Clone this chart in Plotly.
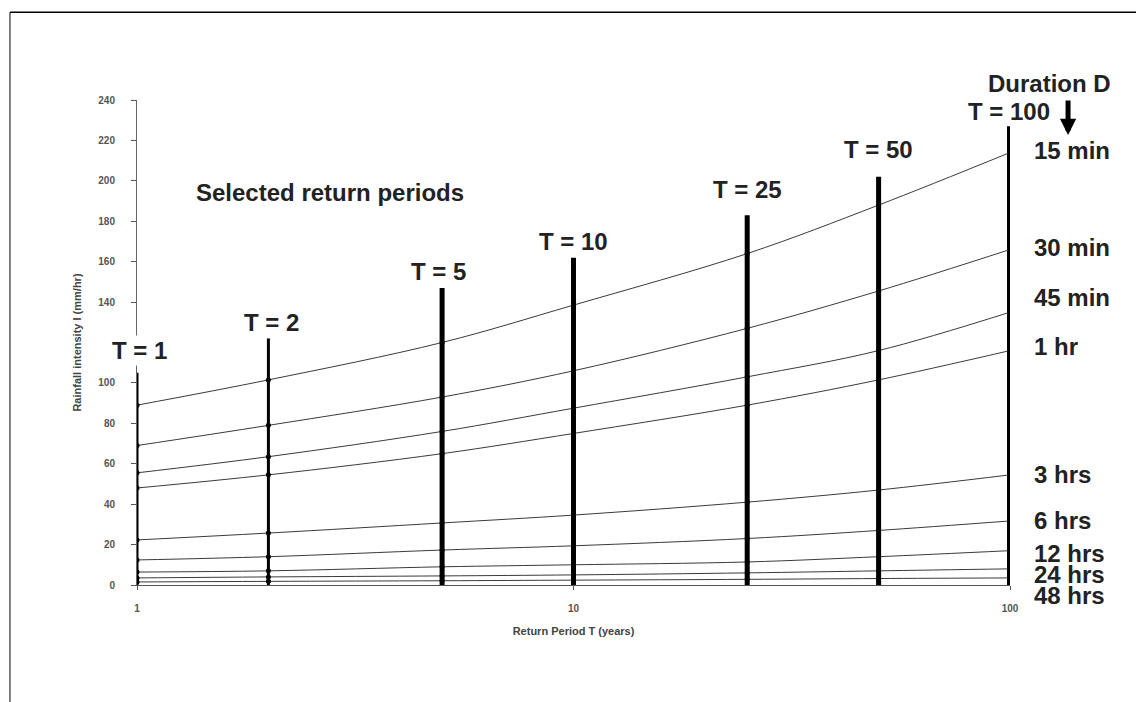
import numpy as np
import plotly.graph_objects as go

# return periods (years)
periods = [1, 2, 5, 10, 25, 50, 100]
period_labels = ["T = 1", "T = 2", "T = 5", "T = 10", "T = 25", "T = 50", "T = 100"]
bar_tops = [105, 122, 147, 162, 183, 202, 227]

# rainfall intensity (mm/hr) for each duration
durations = ["15 min", "30 min", "45 min", "1 hr", "3 hrs", "6 hrs", "12 hrs", "24 hrs", "48 hrs"]
i_15min = [89, 101.5, 120, 138.5, 164, 188, 214]
i_30min = [69, 79, 93, 106, 127, 145.5, 166]
i_45min = [55.5, 63.5, 76, 87.5, 103, 116, 135]
i_1hr = [48, 54.5, 65, 75, 89, 101.5, 116]
i_3hrs = [22.3, 25.7, 30.7, 34.6, 41, 47, 54.5]
i_6hrs = [12.4, 14, 17.3, 19.4, 23, 27, 31.7]
i_12hrs = [6.4, 7, 9, 10, 11.4, 14, 17]
i_24hrs = [3.5, 4, 4.5, 5, 6, 7, 8]
i_48hrs = [1.5, 1.8, 2.1, 2.4, 2.8, 3.2, 3.5]
series = [i_15min, i_30min, i_45min, i_1hr, i_3hrs, i_6hrs, i_12hrs, i_24hrs, i_48hrs]

# where the duration labels sit on the right (y in mm/hr)
label_y = [215, 167, 142.5, 118, 54.5, 31.7, 15.8, 5.4, -5]

FONT = "Liberation Sans, Arial, sans-serif"
TXT = dict(family=FONT, size=24, color="#222222")
fig = go.Figure()

# thick vertical bars at selected return periods
bar_w = [3, 3, 5, 5, 5, 5, 6]
for T, top, w in zip(periods, bar_tops, bar_w):
    fig.add_trace(go.Scatter(x=[T, T], y=[0, top], mode="lines",
                             line=dict(color="black", width=w),
                             hoverinfo="skip", showlegend=False))

# IDF curves
for name, vals in zip(durations, series):
    fig.add_trace(go.Scatter(x=periods, y=vals, mode="lines+markers", name=name,
                             line=dict(color="#3a3a3a", width=1, shape="spline"),
                             marker=dict(color="black", size=5),
                             showlegend=False))

ann = []
# T = ... labels above each bar
shifts = [(2, 22), (3, 16), (-4, 16), (0, 16), (0, 26), (0, 27), (-1, 15)]
for T, txt, top, (dx, dy) in zip(periods, period_labels, bar_tops, shifts):
    ann.append(dict(x=np.log10(T), y=top, text="<b>%s</b>" % txt, showarrow=False,
                    xshift=dx, yshift=dy, font=TXT, xanchor="center", yanchor="middle",
                    bgcolor="white" if T == 1 else None))

for name, yy in zip(durations, label_y):
    ann.append(dict(x=1.025, y=yy / 240, xref="paper", yref="paper", text="<b>%s</b>" % name,
                    showarrow=False, xanchor="left", yanchor="middle", font=TXT))

ann.append(dict(x=0.221, y=0.81, xref="paper", yref="paper", text="<b>Selected return periods</b>",
                showarrow=False, xanchor="center", yanchor="middle", font=TXT))
ann.append(dict(x=1.0452, y=1.035, xref="paper", yref="paper", text="<b>Duration D</b>",
                showarrow=False, xanchor="center", yanchor="middle", font=TXT))
# downward arrow
ann.append(dict(x=1.0665, y=0.928, xref="paper", yref="paper", ax=0, ay=-36, text="",
                showarrow=True, arrowhead=2, arrowsize=0.65, arrowwidth=5, arrowcolor="black"))

fig.update_layout(
    width=1144, height=702,
    margin=dict(l=129, r=142, t=92, b=125),
    plot_bgcolor="white", paper_bgcolor="white",
    annotations=ann,
    xaxis=dict(type="log", range=[0, 2], showgrid=False, zeroline=False,
               showline=True, linecolor="#555555", linewidth=1,
               tickvals=[1, 10, 100], ticktext=["1", "10", "100"],
               ticks="outside", ticklen=4, tickcolor="#555555", ticklabelstandoff=10,
               tickfont=dict(family=FONT, size=10, color="#555555", weight="bold"),
               title=dict(text="<b>Return Period T (years)</b>", standoff=14,
                          font=dict(family=FONT, size=11, color="#444444"))),
    yaxis=dict(range=[0, 240], showgrid=False, zeroline=False,
               showline=True, linecolor="#666666", linewidth=1,
               tickvals=[0, 20, 40, 60, 80, 100, 140, 160, 180, 200, 220, 240],
               ticks="outside", ticklen=5, tickcolor="#555555", ticklabelstandoff=14,
               tickfont=dict(family=FONT, size=10, color="#555555", weight="bold"),
               title=dict(text="<b>Rainfall intensity I (mm/hr)</b>", standoff=14,
                          font=dict(family=FONT, size=11, color="#444444"))),
    shapes=[
        dict(type="line", xref="paper", yref="paper", x0=-0.1455, x1=1.17, y0=1.181, y1=1.181,
             line=dict(color="black", width=1.5)),
        dict(type="line", xref="paper", yref="paper", x0=-0.1455, x1=-0.1455, y0=1.181, y1=-0.27,
             line=dict(color="black", width=1)),
    ],
)

fig.write_html("out.html")
